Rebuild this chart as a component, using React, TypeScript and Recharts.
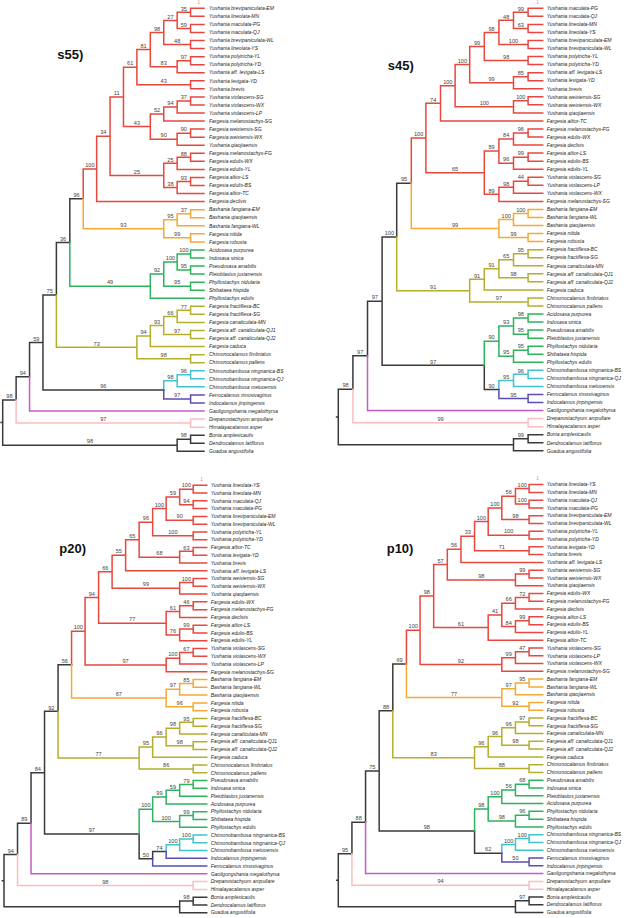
import React from "react";
import { ComposedChart, Line, Scatter, XAxis, YAxis } from "recharts";

// ---------- colours ----------
const RED = "#E8473D";
const ORANGE = "#F5A933";
const OLIVE = "#B5AE2C";
const GREEN = "#2DB35C";
const CYAN = "#3EC3CF";
const PURPLE = "#5A4CB3";
const MAGENTA = "#C85BCA";
const PINK = "#F8BFBF";
const GREY = "#3A3A3A";

// ---------- leaf labels (top to bottom) ----------
const s55Leaves = [
  "Yushania brevipaniculata-EM", "Yushania lineolata-MN", "Yushania maculata-PG", "Yushania maculata-QJ",
  "Yushania brevipaniculata-WL", "Yushania lineolata-YS", "Yushania polytricha-YL", "Yushania polytricha-YD",
  "Yushania aff. levigata-LS", "Yushania levigata-YD", "Yushania brevis", "Yushania violascens-SG",
  "Yushania violascens-WX", "Yushania violascens-LP", "Fargesia melanostachys-SG", "Fargesia weixiensis-SG",
  "Fargesia weixiensis-WX", "Yushania qiaojiaensis", "Fargesia melanostachys-FG", "Fargesia edulis-WX",
  "Fargesia edulis-YL", "Fargesia altior-LS", "Fargesia edulis-BS", "Fargesia altior-TC", "Fargesia declivis",
  "Bashania fangiana-EM", "Bashania qiaojiaensis", "Bashania fangiana-WL", "Fargesia nitida", "Fargesia robusta",
  "Acidosasa purpurea", "Indosasa sinica", "Pseudosasa amabilis", "Pleioblastus juxianensis",
  "Phyllostachys nidularia", "Shibataea hispida", "Phyllostachys edulis", "Fargesia fractiflexa-BC",
  "Fargesia fractiflexa-SG", "Fargesia canaliculata-MN", "Fargesia aff. canaliculata-QJ1",
  "Fargesia aff. canaliculata-QJ2", "Fargesia caduca", "Chimonocalamus fimbriatus", "Chimonocalamus pallens",
  "Chimonobambusa ningnanica-BS", "Chimonobambusa ningnanica-QJ", "Chimonobambusa metuoensis",
  "Ferrocalamus rimosivaginus", "Indocalamus jinpingensis", "Gaoligongshania megalothyrsa",
  "Drepanostachyum ampullare", "Himalayacalamus asper", "Bonia amplexicaulis", "Dendrocalamus latiflorus",
  "Guadua angustifolia",
];

const s45Leaves = [
  "Yushania maculata-PG", "Yushania maculata-QJ", "Yushania lineolata-MN", "Yushania lineolata-YS",
  "Yushania brevipaniculata-EM", "Yushania brevipaniculata-WL", "Yushania polytricha-YL", "Yushania polytricha-YD",
  "Yushania aff. levigata-LS", "Yushania levigata-YD", "Yushania brevis", "Yushania weixiensis-SG",
  "Yushania weixiensis-WX", "Yushania qiaojiaensis", "Fargesia altior-TC", "Fargesia melanostachys-FG",
  "Fargesia edulis-WX", "Fargesia declivis", "Fargesia altior-LS", "Fargesia edulis-BS", "Fargesia edulis-YL",
  "Yushania violascens-SG", "Yushania violascens-LP", "Yushania violascens-WX", "Fargesia melanostachys-SG",
  "Bashania fangiana-EM", "Bashania fangiana-WL", "Bashania qiaojiaensis", "Fargesia nitida", "Fargesia robusta",
  "Fargesia fractiflexa-BC", "Fargesia fractiflexa-SG", "Fargesia canaliculata-MN",
  "Fargesia aff. canaliculata-QJ1", "Fargesia aff. canaliculata-QJ2", "Fargesia caduca",
  "Chimonocalamus fimbriatus", "Chimonocalamus pallens", "Acidosasa purpurea", "Indosasa sinica",
  "Pseudosasa amabilis", "Pleioblastus juxianensis", "Phyllostachys nidularia", "Shibataea hispida",
  "Phyllostachys edulis", "Chimonobambusa ningnanica-BS", "Chimonobambusa ningnanica-QJ",
  "Chimonobambusa metuoensis", "Ferrocalamus rimosivaginus", "Indocalamus jinpingensis",
  "Gaoligongshania megalothyrsa", "Drepanostachyum ampullare", "Himalayacalamus asper", "Bonia amplexicaulis",
  "Dendrocalamus latiflorus", "Guadua angustifolia",
];

const p20Leaves = [
  "Yushania lineolata-YS", "Yushania lineolata-MN", "Yushania maculata-QJ", "Yushania maculata-PG",
  "Yushania brevipaniculata-EM", "Yushania brevipaniculata-WL", "Yushania polytricha-YL", "Yushania polytricha-YD",
  "Fargesia altior-TC", "Yushania levigata-YD", "Yushania brevis", "Yushania aff. levigata-LS",
  "Yushania weixiensis-SG", "Yushania weixiensis-WX", "Yushania qiaojiaensis", "Fargesia edulis-WX",
  "Fargesia melanostachys-FG", "Fargesia declivis", "Fargesia altior-LS", "Fargesia edulis-BS", "Fargesia edulis-YL",
  "Yushania violascens-SG", "Yushania violascens-WX", "Yushania violascens-LP", "Fargesia melanostachys-SG",
  "Bashania fangiana-EM", "Bashania fangiana-WL", "Bashania qiaojiaensis", "Fargesia nitida", "Fargesia robusta",
  "Fargesia fractiflexa-BC", "Fargesia fractiflexa-SG", "Fargesia canaliculata-MN",
  "Fargesia aff. canaliculata-QJ1", "Fargesia aff. canaliculata-QJ2", "Fargesia caduca",
  "Chimonocalamus fimbriatus", "Chimonocalamus pallens", "Pseudosasa amabilis", "Indosasa sinica",
  "Pleioblastus juxianensis", "Acidosasa purpurea", "Phyllostachys nidularia", "Shibataea hispida",
  "Phyllostachys edulis", "Chimonobambusa ningnanica-BS", "Chimonobambusa ningnanica-QJ",
  "Chimonobambusa metuoensis", "Indocalamus jinpingensis", "Ferrocalamus rimosivaginus",
  "Gaoligongshania megalothyrsa", "Drepanostachyum ampullare", "Himalayacalamus asper", "Bonia amplexicaulis",
  "Dendrocalamus latiflorus", "Guadua angustifolia",
];

const p10Leaves = [
  "Yushania lineolata-YS", "Yushania lineolata-MN", "Yushania maculata-QJ", "Yushania maculata-PG",
  "Yushania brevipaniculata-EM", "Yushania brevipaniculata-WL", "Yushania polytricha-YL", "Yushania polytricha-YD",
  "Yushania levigata-YD", "Yushania brevis", "Yushania aff. levigata-LS", "Yushania weixiensis-SG",
  "Yushania weixiensis-WX", "Yushania qiaojiaensis", "Fargesia edulis-WX", "Fargesia melanostachys-FG",
  "Fargesia declivis", "Fargesia altior-LS", "Fargesia edulis-BS", "Fargesia edulis-YL", "Fargesia altior-TC",
  "Yushania violascens-SG", "Yushania violascens-LP", "Yushania violascens-WX", "Fargesia melanostachys-SG",
  "Bashania fangiana-EM", "Bashania fangiana-WL", "Bashania qiaojiaensis", "Fargesia nitida", "Fargesia robusta",
  "Fargesia fractiflexa-BC", "Fargesia fractiflexa-SG", "Fargesia canaliculata-MN",
  "Fargesia aff. canaliculata-QJ1", "Fargesia aff. canaliculata-QJ2", "Fargesia caduca",
  "Chimonocalamus fimbriatus", "Chimonocalamus pallens", "Pseudosasa amabilis", "Indosasa sinica",
  "Pleioblastus juxianensis", "Acidosasa purpurea", "Phyllostachys nidularia", "Shibataea hispida",
  "Phyllostachys edulis", "Chimonobambusa ningnanica-BS", "Chimonobambusa ningnanica-QJ",
  "Chimonobambusa metuoensis", "Ferrocalamus rimosivaginus", "Indocalamus jinpingensis",
  "Gaoligongshania megalothyrsa", "Drepanostachyum ampullare", "Himalayacalamus asper", "Bonia amplexicaulis",
  "Dendrocalamus latiflorus", "Guadua angustifolia",
];

// ---------- topologies (numbers = leaf positions, labels after ')' = bootstrap) ----------
const s55A = "(((((1,2)35,(3,4)59)27,(5,6)48)98,((7,8)97,9)83)81,(10,11)43)61";
const s55B = "((((12,13)37,14)94,15)52,((16,17)90,18)90)43";
const s55C = "(((19,20)88,21)25,((22,23)93,24)38)25";
const s55Red = `(((${s55A},${s55B})11,${s55C})34,25)100`;
const s55Yellow = "(((26,27)37,28)95,(29,30)99)93";
const s55Green = "((((31,32)100,(33,34)95)100,(35,36)95)92,37)49";
const s55Olive = "(((((38,39)77,40)66,(41,42)97)93,43)94,(44,45)98)73";
const s55Chim = "(((46,47)96,48)98,(49,50)97)96";
const s55Tree = `(((((((${s55Red},${s55Yellow})96,${s55Green})36,${s55Olive})75,${s55Chim})59,51)94,(52,53)97)98,((54,55)98,56)98)`;

const s45A = "(((((1,2)99,(3,4)63)48,(5,6)100)98,(7,8)98)99,((9,10)85,11)99)100";
const s45Red = `(((${s45A},((12,13)100,14)100)100,15)74,((((16,17)96,18)84,((19,20)99,21)96)89,(((22,23)44,24)98,25)89)65)100`;
const s45Yellow = "(((26,27)100,28)100,(29,30)99)99";
const s45Olive = "(((((31,32)95,33)65,(34,35)98)91,36)91,(37,38)97)91";
const s45Green = "(((39,40)98,(41,42)95)93,((43,44)95,45)95)90";
const s45Chim = "(((46,47)96,48)95,(49,50)95)90";
const s45Tree = `((((((${s45Red},${s45Yellow})95,${s45Olive})100,(${s45Green},${s45Chim})97)97,51)97,(52,53)99)98,((54,55)99,56))`;

const p20A = "(((((1,2)100,(3,4)94)59,(5,6)90)100,(7,8)100)96,((9,10)63,11)68)65";
const p20Red = `((((${p20A},12)55,((13,14)100,15)99)66,(((16,17)46,18)61,((19,20)99,21)76)77)94,(((22,23)67,24)100,25)97)100`;
const p20Yellow = "(((26,27)85,28)97,(29,30)96)67";
const p20Olive = "(((((31,32)95,33)98,(34,35)98)96,36)95,(37,38)86)77";
const p20Green = "((((39,40)79,41)59,42)99,((43,44)99,45)100)100";
const p20Chim = "((((46,47)100,48)100,49)74,50)50";
const p20Tree = `((((((${p20Red},${p20Yellow})56,${p20Olive})92,(${p20Green},${p20Chim})97)84,51)89,(52,53)98)94,((54,55)98,56))`;

const p10A = "((((((1,2)100,(3,4)100)56,(5,6)98)100,(7,8)100)100,(9,10)71)33,11)56";
const p10Red = `(((${p10A},((12,13)99,14)98)57,((((15,16)72,17)66,((18,19)99,20)84)41,21)61)98,(((22,23)47,24)99,25)92)100`;
const p10Yellow = "(((26,27)95,28)97,(29,30)92)77";
const p10Olive = "(((((31,32)97,33)96,(34,35)98)96,36)96,(37,38)88)83";
const p10Green = "((((39,40)68,41)56,42)100,((43,44)96,45)98)98";
const p10Chim = "(((46,47)100,48)100,(49,50)50)62";
const p10Tree = `((((((${p10Red},${p10Yellow})69,${p10Olive})88,(${p10Green},${p10Chim})98)75,51)88,(52,53)94)95,((54,55)97,56))`;

// ---------- clade colouring (leaf ranges) ----------
const s55Clades: [number, number, string][] = [
  [1, 25, RED], [26, 30, ORANGE], [31, 37, GREEN], [38, 45, OLIVE],
  [46, 48, CYAN], [49, 50, PURPLE], [51, 51, MAGENTA], [52, 53, PINK],
];
const otherClades: [number, number, string][] = [
  [1, 25, RED], [26, 30, ORANGE], [31, 38, OLIVE], [39, 45, GREEN],
  [46, 48, CYAN], [49, 50, PURPLE], [51, 51, MAGENTA], [52, 53, PINK],
];

// ---------- tree helpers ----------
type TNode = {
  children: TNode[];
  leaf?: number;
  bs?: string;
  h: number;
  lo: number;
  hi: number;
  x: number;
  y: number;
};

function parseTree(src: string): TNode {
  let i = 0;
  const readNum = () => {
    let s = "";
    while (i < src.length && /[0-9]/.test(src[i])) s += src[i++];
    return s;
  };
  const node = (): TNode => {
    const n: TNode = { children: [], h: 0, lo: 0, hi: 0, x: 0, y: 0 };
    if (src[i] === "(") {
      i++;
      n.children.push(node());
      while (src[i] === ",") {
        i++;
        n.children.push(node());
      }
      i++; // ')'
      const lab = readNum();
      if (lab) n.bs = lab;
    } else {
      n.leaf = parseInt(readNum(), 10);
    }
    return n;
  };
  return node();
}

function measure(n: TNode) {
  if (n.leaf !== undefined) {
    n.h = 0;
    n.lo = n.hi = n.leaf;
    n.y = n.leaf;
    return;
  }
  n.children.forEach(measure);
  n.h = 1 + Math.max(...n.children.map((c) => c.h));
  n.lo = Math.min(...n.children.map((c) => c.lo));
  n.hi = Math.max(...n.children.map((c) => c.hi));
  n.y = (n.children[0].y + n.children[n.children.length - 1].y) / 2;
}

function place(n: TNode, maxH: number) {
  n.x = maxH - n.h;
  n.children.forEach((c) => place(c, maxH));
}

const STUB = 0.12;

function buildPanel(tree: string, leaves: string[], clades: [number, number, string][]) {
  const root = parseTree(tree);
  measure(root);
  const maxH = root.h;
  place(root, maxH);
  const colorOf = (n: TNode) => {
    const c = clades.find((r) => n.lo >= r[0] && n.hi <= r[1]);
    return c ? c[2] : GREY;
  };
  const segs: Record<string, { x: number; y: number | null }[]> = {};
  const boot: { x: number; y: number; label: string }[] = [];
  const walk = (p: TNode, n: TNode) => {
    const c = colorOf(n);
    if (!segs[c]) segs[c] = [];
    segs[c].push({ x: p.x, y: p.y }, { x: p.x, y: n.y }, { x: n.x, y: n.y }, { x: n.x, y: null });
    if (n.bs) boot.push({ x: (p.x + n.x) / 2, y: n.y, label: n.bs });
    n.children.forEach((ch) => walk(n, ch));
  };
  root.children.forEach((ch) => walk(root, ch));
  if (!segs[GREY]) segs[GREY] = [];
  segs[GREY].push({ x: -STUB, y: root.y }, { x: 0, y: root.y }, { x: 0, y: null });
  const tips = leaves.map((name, i) => ({ x: maxH, y: i + 1, name, idx: i + 1 }));
  return { maxH, segs, boot, tips, n: leaves.length };
}

// ---------- panel layout ----------
const panels = [
  { title: "s55)", tree: s55Tree, leaves: s55Leaves, clades: s55Clades, left: 0, top: 0, w: 320, h: 460, x0: 2.7, xTip: 204, y1: 8.3, yN: 451.3, gap: 5, tx: 57.3, ty: 58.5 },
  { title: "s45)", tree: s45Tree, leaves: s45Leaves, clades: otherClades, left: 320, top: 0, w: 320, h: 460, x0: 338.3, xTip: 542.7, y1: 8.3, yN: 450.8, gap: 4, tx: 387.7, ty: 69.8 },
  { title: "p20)", tree: p20Tree, leaves: p20Leaves, clades: otherClades, left: 0, top: 460, w: 320, h: 458, x0: 4, xTip: 206.7, y1: 485.3, yN: 912.7, gap: 4, tx: 59.3, ty: 553 },
  { title: "p10)", tree: p10Tree, leaves: p10Leaves, clades: otherClades, left: 320, top: 460, w: 320, h: 458, x0: 338.3, xTip: 542.7, y1: 484.6, yN: 912.5, gap: 4, tx: 386.7, ty: 552.5 },
];

const FONT = "'Liberation Sans', Arial, Helvetica, sans-serif";

function TreePanel({ cfg }: { cfg: (typeof panels)[number] }) {
  const data = buildPanel(cfg.tree, cfg.leaves, cfg.clades);
  const k = (cfg.xTip - cfg.x0) / data.maxH;
  const plotLeft = cfg.x0 - STUB * k;
  const margin = {
    left: plotLeft - cfg.left,
    right: cfg.left + cfg.w - cfg.xTip,
    top: cfg.y1 - cfg.top,
    bottom: cfg.top + cfg.h - cfg.yN,
  };
  const leafShape = (props: any) => {
    const { cx, cy, payload } = props;
    return (
      <g>
        <text x={cx + cfg.gap} y={cy} dy="0.35em" fontSize={5} fontStyle="italic" fill="#1e1e1e" fontFamily={FONT}>
          {payload.name}
        </text>
        {payload.idx === 1 ? (
          <text x={cx - 5} y={cy - 4.6} fontSize={5} fill="#F08A7E" textAnchor="middle" fontFamily={FONT}>
            1
          </text>
        ) : null}
      </g>
    );
  };
  const bootShape = (props: any) => {
    const { cx, cy, payload } = props;
    return (
      <text x={cx} y={cy - 1.8} fontSize={5.6} fill="#444" textAnchor="middle" fontFamily={FONT}>
        {payload.label}
      </text>
    );
  };
  return (
    <div style={{ position: "absolute", left: cfg.left, top: cfg.top, width: cfg.w, height: cfg.h }}>
      <ComposedChart width={cfg.w} height={cfg.h} margin={margin}>
        <XAxis type="number" dataKey="x" domain={[-STUB, data.maxH]} hide />
        <YAxis type="number" dataKey="y" domain={[1, data.n]} reversed hide />
        {Object.keys(data.segs).map((c) => (
          <Line
            key={c}
            data={data.segs[c]}
            dataKey="y"
            stroke={c}
            strokeWidth={1.5}
            strokeLinecap="square"
            dot={false}
            activeDot={false}
            connectNulls={false}
            isAnimationActive={false}
            type="linear"
          />
        ))}
        <Scatter data={data.boot} dataKey="y" shape={bootShape} isAnimationActive={false} />
        <Scatter data={data.tips} dataKey="y" shape={leafShape} isAnimationActive={false} />
      </ComposedChart>
    </div>
  );
}

export default function App() {
  return (
    <div style={{ position: "absolute", left: 0, top: 0, width: 640, height: 918, background: "#fff", overflow: "hidden" }}>
      {panels.map((p) => (
        <TreePanel key={p.title} cfg={p} />
      ))}
      {panels.map((p) => (
        <div
          key={"t" + p.title}
          style={{
            position: "absolute",
            left: p.tx,
            top: p.ty - 11,
            fontFamily: FONT,
            fontWeight: "bold",
            fontSize: 13,
            lineHeight: "13px",
            color: "#111",
            whiteSpace: "nowrap",
          }}
        >
          {p.title}
        </div>
      ))}
    </div>
  );
}
